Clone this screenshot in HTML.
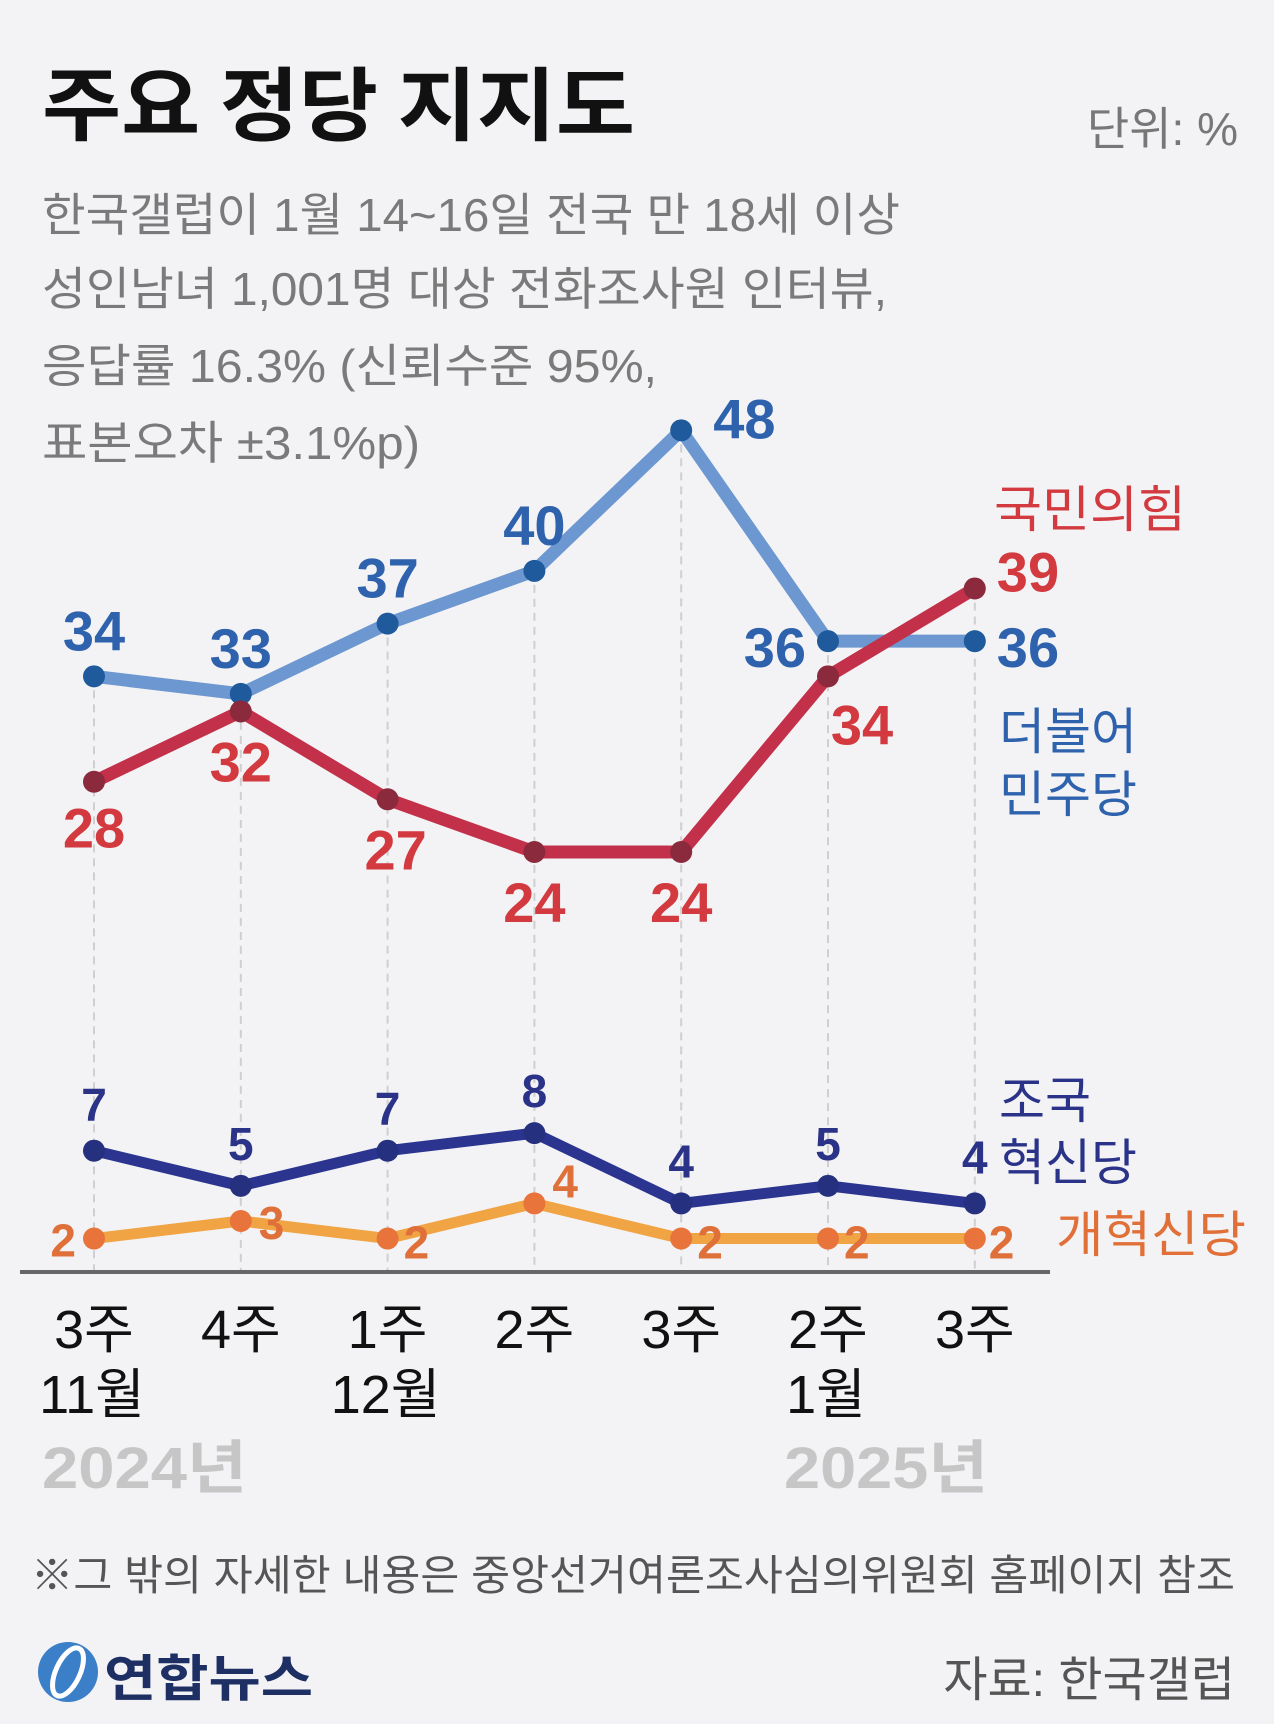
<!DOCTYPE html>
<html><head><meta charset="utf-8"><style>
html,body{margin:0;padding:0;background:#f3f3f5;}
svg{display:block;font-family:"Liberation Sans","Noto Sans CJK KR",sans-serif;}
</style></head><body>
<svg id="chart" width="1274" height="1724" viewBox="0 0 1274 1724">
<rect width="1274" height="1724" fill="#f3f3f5"/>
<text x="42" y="134" font-size="80" font-weight="bold" fill="#111" textLength="593" lengthAdjust="spacingAndGlyphs" font-family="Noto Sans CJK KR, sans-serif">주요 정당 지지도</text>
<text x="1238" y="145" font-size="46" fill="#777" text-anchor="end">단위: %</text>
<g fill="#7a7a7a" font-size="46">
<text x="42" y="231" textLength="858" lengthAdjust="spacingAndGlyphs">한국갤럽이 1월 14~16일 전국 만 18세 이상</text>
<text x="42" y="305" textLength="845" lengthAdjust="spacingAndGlyphs">성인남녀 1,001명 대상 전화조사원 인터뷰,</text>
<text x="42" y="382" textLength="615" lengthAdjust="spacingAndGlyphs">응답률 16.3% (신뢰수준 95%,</text>
<text x="42" y="459" textLength="378" lengthAdjust="spacingAndGlyphs">표본오차 ±3.1%p)</text>
</g>
<g id="plot"></g>
<line x1="20" y1="1272" x2="1050" y2="1272" stroke="#666" stroke-width="4"/>
<g id="xlabels" font-size="54" fill="#111"></g>
<text x="42" y="1488" font-size="58" font-weight="bold" fill="#c6c6c6" textLength="205" lengthAdjust="spacingAndGlyphs">2024년</text>
<text x="784" y="1488" font-size="58" font-weight="bold" fill="#c6c6c6" textLength="204" lengthAdjust="spacingAndGlyphs">2025년</text>
<text x="994" y="527" font-size="50" fill="#d23a3f" textLength="192" lengthAdjust="spacingAndGlyphs">국민의힘</text>
<text x="999" y="749" font-size="50" fill="#2f62ad">더불어</text>
<text x="999" y="812" font-size="50" fill="#2f62ad">민주당</text>
<text x="999" y="1118" font-size="50" fill="#2a3388">조국</text>
<text x="999" y="1180" font-size="50" fill="#2a3388">혁신당</text>
<text x="1056" y="1252" font-size="50" fill="#e07038" textLength="190" lengthAdjust="spacingAndGlyphs">개혁신당</text>
<text x="31" y="1590" font-size="42" fill="#555" textLength="1204" lengthAdjust="spacingAndGlyphs">※그 밖의 자세한 내용은 중앙선거여론조사심의위원회 홈페이지 참조</text>
<g>
<circle cx="68" cy="1672" r="30" fill="#3b7fc8"/>
<ellipse cx="68" cy="1672" rx="12" ry="26" fill="none" stroke="#fff" stroke-width="5" transform="rotate(25 68 1672)"/>
<text x="104" y="1696" font-size="50" font-weight="bold" fill="#1d2f63" textLength="209" lengthAdjust="spacingAndGlyphs">연합뉴스</text>
</g>
<text x="1235" y="1696" font-size="48" fill="#555" text-anchor="end">자료: 한국갤럽</text>
</svg>
<script>
const weeks = ["3주","4주","1주","2주","3주","2주","3주"];
const months = ["11월","","12월","","","1월",""];
const democratic = [34,33,37,40,48,36,36];
const ppp = [28,32,27,24,24,34,39];
const rebuilding = [7,5,7,8,4,5,4];
const reform = [2,3,2,4,2,2,2];

const NS="http://www.w3.org/2000/svg";
const xPos=i=>94+i*146.8;
const yPos=v=>1273.7-17.57*v;
const plot=document.getElementById('plot');
function mk(tag,attrs,parent){const e=document.createElementNS(NS,tag);for(const k in attrs)e.setAttribute(k,attrs[k]);(parent||plot).appendChild(e);return e;}

weeks.forEach((w,i)=>{
  const top=Math.min(yPos(democratic[i]),yPos(ppp[i]));
  const g=mk('line',{x1:xPos(i),x2:xPos(i),y1:top,y2:1272,stroke:'#cfcfcf','stroke-width':2,'stroke-dasharray':'8 6'});
  
  
});

const series=[
 {d:democratic,name:'democratic',line:'#6c97d0',dot:'#1f5a9c',lab:'#2f62ad',w:13,
  off:[[0,-26,'middle'],[0,-26,'middle'],[0,-26,'middle'],[0,-26,'middle'],[32,8,'start'],[-22,26,'end'],[22,26,'start']]},
 {d:ppp,name:'ppp',line:'#c2304a',dot:'#8a2a3c',lab:'#d23a3f',w:13,
  off:[[0,66,'middle'],[0,70,'middle'],[8,70,'middle'],[0,70,'middle'],[0,70,'middle'],[34,68,'middle'],[22,3,'start']]},
 {d:rebuilding,name:'rebuilding',line:'#2b3590',dot:'#25307f',lab:'#2a3388',w:11,
  off:[[0,-30,'middle'],[0,-26,'middle'],[0,-26,'middle'],[0,-26,'middle'],[0,-26,'middle'],[0,-26,'middle'],[0,-30,'middle']]},
 {d:reform,name:'reform',line:'#f0a444',dot:'#e8733b',lab:'#e0703a',w:11,
  off:[[-18,18,'end'],[18,18,'start'],[16,20,'start'],[18,-6,'start'],[16,20,'start'],[16,20,'start'],[14,20,'start']]}
];
series.forEach(s=>{
  const pts=s.d.map((v,i)=>xPos(i)+','+yPos(v)).join(' ');
  const pl=mk('polyline',{points:pts,fill:'none',stroke:s.line,'stroke-width':s.w,'stroke-linejoin':'round'});
  
  
});
series.forEach(s=>{
  s.d.forEach((v,i)=>{
    const c=mk('circle',{cx:xPos(i),cy:yPos(v),r:11,fill:s.dot});
    
    
    const o=s.off[i];
    const t=mk('text',{x:xPos(i)+o[0],y:yPos(v)+o[1],'text-anchor':o[2],'font-size':(s.name==='democratic'||s.name==='ppp')?56:46,'font-weight':'bold',fill:s.lab});
    t.textContent=v;
    
    
  });
});
const xl=document.getElementById('xlabels');
weeks.forEach((w,i)=>{
  const t=mk('text',{x:xPos(i),y:1348,'text-anchor':'middle'},xl);
  t.textContent=w;
  
  
  if(months[i]){
    const m=mk('text',{x:xPos(i)-2,y:1413,'text-anchor':'middle'},xl);
    m.textContent=months[i];
    
    
  }
});
</script>
</body></html>
